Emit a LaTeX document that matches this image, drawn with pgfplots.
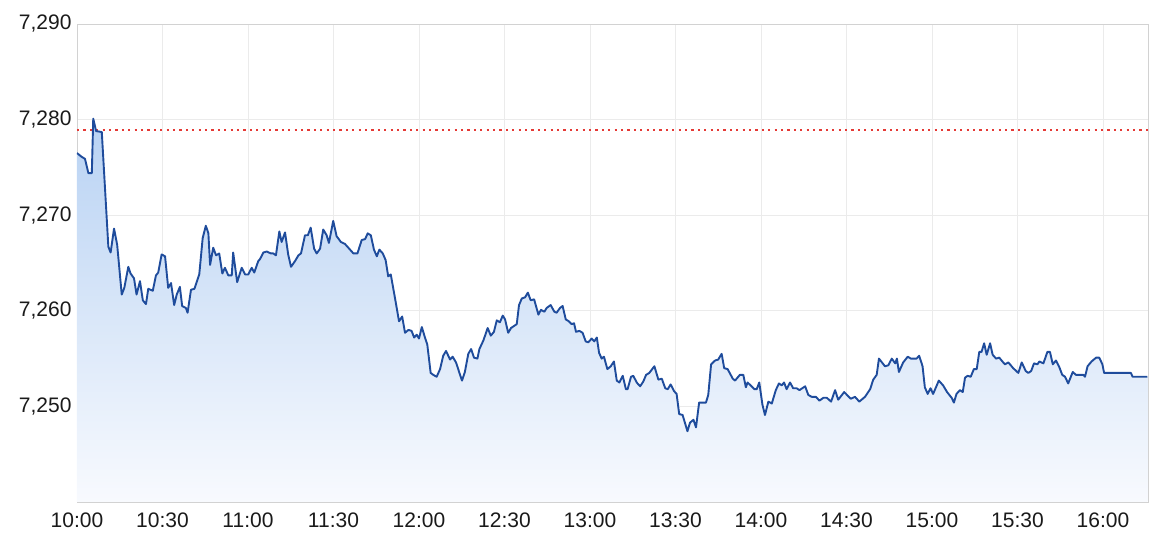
\documentclass[border=0pt]{standalone}
\usepackage{pgfplots}
\pgfplotsset{compat=1.18}
\usepackage{pgfplotstable}
\usepackage{fontspec}
\setmainfont{Liberation Sans}
\definecolor{lineblue}{HTML}{1F4C9C}
\definecolor{filltop}{HTML}{B8D2F3}
\definecolor{fillbot}{HTML}{F8FAFE}
\definecolor{gridc}{HTML}{EBEBEB}
\definecolor{axc}{HTML}{D2D2D2}
\definecolor{refred}{HTML}{E53935}
\definecolor{labc}{HTML}{1A1A1A}
\pgfplotstableread{
t v
0 7276.5
1.65 7276.1
2.8 7275.9
4.0 7274.4
5.2 7274.4
5.7 7280.1
6.7 7278.8
8.7 7278.7
11.0 7266.7
11.8 7266.1
13.0 7268.6
14.1 7266.9
15.7 7261.7
16.6 7262.4
18.0 7264.6
18.8 7263.9
20.0 7263.4
20.9 7261.7
22.1 7263.1
23.1 7261.1
24.2 7260.7
25.0 7262.3
26.6 7262.1
27.7 7263.7
28.5 7264.0
29.7 7265.9
30.9 7265.7
32.0 7262.4
33.0 7262.9
34.1 7260.6
35.0 7261.7
36.1 7262.5
36.9 7260.5
38.2 7260.3
38.8 7259.8
40.0 7262.2
41.2 7262.3
42.9 7263.8
44.1 7267.6
45.2 7268.9
46.1 7268.1
46.7 7264.8
47.8 7266.6
48.8 7265.8
49.9 7266.0
51.0 7263.9
51.9 7264.5
53.1 7263.7
54.3 7263.7
54.8 7266.1
56.2 7263.0
57.8 7264.5
59.0 7263.8
60.1 7263.8
61.3 7264.5
62.2 7264.0
63.6 7265.2
64.2 7265.4
65.4 7266.1
66.6 7266.2
68.0 7266.0
68.9 7266.0
69.8 7265.8
71.0 7268.3
71.8 7267.2
73.0 7268.2
74.1 7265.9
75.1 7264.6
76.5 7265.2
77.7 7265.8
78.6 7266.0
80.0 7267.9
81.0 7267.9
82.0 7268.7
83.2 7266.5
84.1 7266.0
85.3 7266.5
86.4 7268.5
87.6 7267.9
88.4 7267.1
89.9 7269.4
91.1 7267.8
92.6 7267.2
94.0 7267.0
95.8 7266.4
97.0 7266.0
98.4 7266.0
99.9 7267.4
101.1 7267.5
102.0 7268.1
103.1 7267.9
104.2 7266.4
105.2 7265.7
106.1 7266.4
107.3 7266.0
108.3 7265.3
109.2 7263.6
110.1 7263.8
111.6 7261.3
113.0 7258.9
114.1 7259.4
115.1 7257.7
116.3 7258.0
117.4 7257.9
118.3 7257.2
119.2 7257.5
120.0 7257.1
121.0 7258.3
122.1 7257.2
122.9 7256.5
124.1 7253.5
125.0 7253.3
126.2 7253.1
127.4 7253.9
128.5 7255.3
129.5 7255.8
130.9 7254.9
131.8 7255.2
133.0 7254.6
134.2 7253.5
135.1 7252.7
136.1 7253.6
137.3 7255.5
138.3 7256.0
139.3 7255.1
140.5 7255.0
141.2 7256.0
142.6 7256.9
144.1 7258.2
145.2 7257.4
146.3 7257.8
147.3 7259.0
148.4 7258.8
149.4 7259.5
150.2 7259.1
151.3 7257.7
152.3 7258.2
154.3 7258.6
155.1 7260.6
156.1 7261.3
157.2 7261.4
158.2 7261.9
159.2 7261.1
160.4 7261.2
161.9 7259.6
162.8 7260.1
164.0 7259.9
164.8 7260.3
166.2 7260.6
167.5 7259.9
168.3 7259.8
169.5 7260.3
170.4 7260.5
171.5 7259.1
172.6 7258.9
173.6 7258.6
174.4 7258.7
175.1 7257.8
176.3 7257.9
177.4 7257.7
178.5 7256.8
179.4 7256.7
180.6 7257.1
181.5 7256.8
182.4 7257.2
183.2 7255.6
184.1 7255.0
184.9 7255.2
186.1 7253.9
187.3 7254.2
188.4 7254.7
189.4 7252.7
190.3 7252.5
191.5 7253.2
192.6 7251.8
193.2 7251.8
194.4 7253.1
195.2 7253.2
196.4 7252.5
197.6 7252.1
198.7 7252.6
199.7 7253.3
200.8 7253.5
202.6 7254.2
204.0 7252.8
205.2 7252.9
206.4 7251.9
207.3 7251.8
208.3 7252.3
209.5 7251.6
210.4 7251.3
211.3 7249.2
212.5 7249.1
214.2 7247.4
215.1 7248.3
216.3 7248.6
217.2 7247.8
218.3 7250.4
219.8 7250.4
220.7 7250.4
221.5 7251.2
222.5 7254.4
223.9 7254.8
225.0 7254.9
226.2 7255.5
227.1 7254.0
228.3 7253.9
230.1 7252.9
230.9 7252.7
232.6 7253.3
233.8 7253.3
234.7 7252.0
235.3 7252.5
236.7 7252.1
237.7 7251.8
238.5 7251.8
239.4 7252.5
240.5 7250.2
241.4 7249.1
242.6 7250.5
243.8 7250.3
245.2 7251.7
246.3 7252.4
247.3 7252.2
248.1 7252.5
249.0 7251.8
250.2 7252.5
251.3 7251.9
252.5 7251.9
253.5 7251.7
255.5 7252.1
256.6 7251.2
257.8 7251.0
259.3 7251.0
260.5 7250.6
261.9 7250.9
263.1 7250.9
264.6 7250.5
266.0 7251.7
267.1 7250.7
269.2 7251.5
271.5 7250.8
273.0 7251.0
274.5 7250.5
276.5 7251.0
278.3 7251.8
279.4 7252.8
280.6 7253.3
281.4 7255.0
283.5 7254.2
284.7 7254.3
285.9 7255.0
287.1 7254.5
287.7 7255.0
288.4 7253.6
289.9 7254.6
291.5 7255.2
292.6 7255.0
293.8 7255.0
294.6 7255.0
295.5 7255.3
296.7 7254.2
297.5 7252.0
298.5 7251.3
299.5 7251.9
300.4 7251.3
302.4 7252.7
303.9 7252.2
305.3 7251.5
306.9 7250.9
307.7 7250.4
308.6 7251.3
309.8 7251.7
310.8 7251.5
311.6 7253.0
312.5 7253.2
313.6 7253.1
314.7 7253.9
315.7 7253.9
316.6 7255.7
317.4 7255.7
318.3 7256.6
319.2 7255.4
320.4 7256.6
321.3 7255.4
322.5 7255.0
323.6 7255.1
325.0 7254.6
325.6 7254.4
326.8 7254.6
328.5 7254.0
330.3 7253.5
331.5 7254.6
332.9 7253.7
333.8 7253.5
334.8 7253.7
335.8 7254.5
337.0 7254.4
337.7 7254.7
339.1 7254.5
340.5 7255.7
341.4 7255.7
342.4 7254.4
343.5 7254.8
344.7 7254.1
345.7 7253.3
346.7 7253.1
347.8 7252.4
349.4 7253.6
350.5 7253.3
353.1 7253.3
353.7 7253.1
354.6 7254.2
356.0 7254.7
357.6 7255.1
358.7 7255.1
359.8 7254.4
360.4 7253.5
369.8 7253.5
370.4 7253.1
375.6 7253.1
}\pricedata
\begin{document}
\begin{tikzpicture}
\useasboundingbox (-77pt,-41pt) rectangle (1091pt,502pt);
\begin{axis}[
  at={(0pt,0pt)}, anchor=south west,
  scale only axis, width=1071pt, height=478pt,
  xmin=0, xmax=375.8, ymin=7240, ymax=7290,
  axis line style={draw=axc, line width=0.8pt},
  xtick={0,30,...,360},
  xticklabels={10:00,10:30,11:00,11:30,12:00,12:30,13:00,13:30,14:00,14:30,15:00,15:30,16:00},
  ytick={7250,7260,7270,7280,7290},
  yticklabels={{7,250},{7,260},{7,270},{7,280},{7,290}},
  major tick length=0pt,
  grid=major,
  major grid style={draw=gridc, line width=0.8pt},
  tick label style={font=\fontsize{21}{24}\selectfont, text=labc},
  xticklabel style={yshift=-7pt},
  yticklabel style={xshift=-2pt},
  clip=true,
]
\addplot[draw=none, top color=filltop, bottom color=fillbot, forget plot]
  table[x=t, y=v]{\pricedata} -- (axis cs:375.6,7240) -- (axis cs:0,7240) -- cycle;
\addplot[refred, line width=1.4pt, dash pattern=on 2.2pt off 4.2pt, forget plot]
  coordinates {(0,7278.9) (375.8,7278.9)};
\addplot[lineblue, line width=1.9pt, line join=round, mark=none]
  table[x=t, y=v]{\pricedata};
\end{axis}
\end{tikzpicture}
\end{document}
